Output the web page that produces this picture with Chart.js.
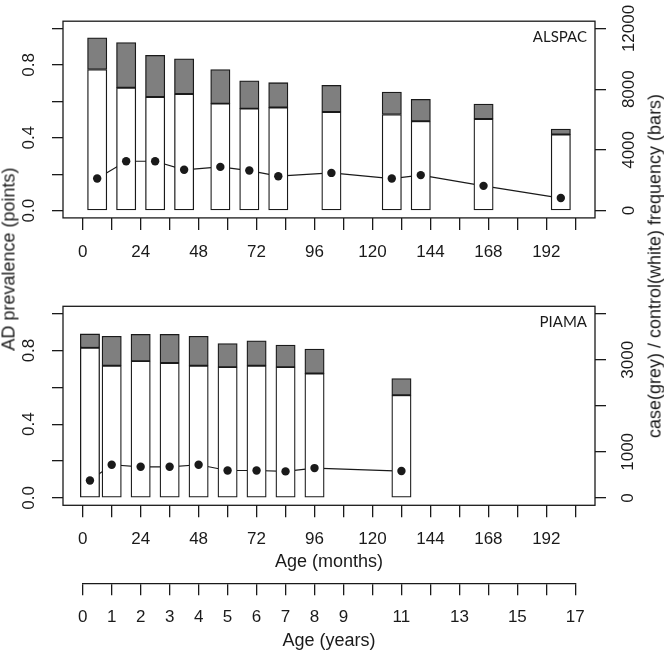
<!DOCTYPE html>
<html>
<head>
<meta charset="utf-8">
<script src="https://cdn.jsdelivr.net/npm/chart.js@4.4.0/dist/chart.umd.min.js"></script>
<style>
  body { margin: 0; background: #fff; }
  #wrap { position: relative; width: 664px; height: 652px; background: #fff; overflow: hidden; }
  canvas { position: absolute; left: 0; }
  .ytitle {
    position: absolute; white-space: nowrap; color: #1a1a1a;
    font-family: 'Liberation Sans', Arial, sans-serif; font-size: 18px;
    transform: translate(-50%, -50%) rotate(-90deg);
  }
</style>
</head>
<body>
<div id="wrap">
  <canvas id="alspac" width="664" height="262" style="top:0"></canvas>
  <canvas id="piama" width="664" height="293" style="top:280px"></canvas>
  <canvas id="years" width="664" height="76" style="top:576px"></canvas>
  <div class="ytitle" style="left:9px; top:259px">AD prevalence (points)</div>
  <div class="ytitle" style="left:655px; top:266px">case(grey) / control(white) frequency (bars)</div>
</div>
<script>
// ALSPAC, age in months
const alspacAge = [6, 18, 30, 42, 57, 69, 81, 103, 128, 140, 166, 198];
const alspacControl = [9300, 8100, 7480, 7680, 7050, 6720, 6790, 6500, 6330, 5890, 6040, 5020];
const alspacCase = [2080, 2970, 2750, 2320, 2250, 1830, 1640, 1750, 1480, 1440, 980, 350];
const alspacPrev = [0.176, 0.271, 0.271, 0.224, 0.24, 0.22, 0.189, 0.207, 0.176, 0.195, 0.136, 0.069];

// PIAMA
const piamaAge = [3, 12, 24, 36, 48, 60, 72, 84, 96, 132];
const piamaControl = [3260, 2870, 2970, 2930, 2870, 2840, 2870, 2840, 2700, 2230];
const piamaCase = [300, 640, 580, 620, 640, 510, 540, 480, 530, 360];
const piamaPrev = [0.095, 0.18, 0.169, 0.169, 0.18, 0.149, 0.149, 0.144, 0.162, 0.146];

// ticks and labels
const monthTicks = [0, 12, 24, 36, 48, 60, 72, 84, 96, 108, 120, 132, 144, 156, 168, 180, 192, 204];
const monthLabels = ['0', '', '24', '', '48', '', '72', '', '96', '', '120', '', '144', '', '168', '', '192', ''];
const yearLabels = ['0', '1', '2', '3', '4', '5', '6', '7', '8', '9', '', '11', '', '13', '', '15', '', '17'];
const prevTicks = [0, 0.2, 0.4, 0.6, 0.8, 1.0];
const prevLabels = ['0.0', '', '0.4', '', '0.8', ''];
const alspacCountTicks = [0, 4000, 8000, 12000];
const alspacCountLabels = ['0', '4000', '8000', '12000'];
const piamaCountTicks = [0, 1000, 2000, 3000, 4000];
const piamaCountLabels = ['0', '1000', '', '3000', ''];

const barMonths = 8;
const ink = '#1a1a1a';
const grey = '#7f7f7f';
const tickFont = { family: "'Liberation Sans', Arial, sans-serif", size: 17 };
const titleFont = { family: "'Liberation Sans', Arial, sans-serif", size: 18 };

// box round the plot area + cohort name
const framePlugin = {
  id: 'frame',
  afterDatasetsDraw(chart, args, opts) {
    if (!opts.box) return;
    const { ctx, chartArea: a } = chart;
    ctx.save();
    ctx.strokeStyle = ink;
    ctx.lineWidth = 1.3;
    ctx.strokeRect(a.left, a.top, a.right - a.left, a.bottom - a.top);
    if (opts.label) {
      ctx.fillStyle = ink;
      ctx.font = "15px Lato, 'Open Sans', sans-serif";
      ctx.textAlign = 'right';
      ctx.textBaseline = 'middle';
      ctx.fillText(opts.label, a.right - 8, a.top + 16);
    }
    ctx.restore();
  }
};

function fixedTicks(values) {
  return scale => { scale.ticks = values.map(v => ({ value: v })); };
}

function tickGrid(len) {
  return { drawOnChartArea: false, drawTicks: true, tickLength: len, color: ink, tickColor: ink, lineWidth: 1.3, offset: false };
}

function panel(id, p) {
  const pts = p.age.map((a, i) => ({ x: a, y: p.prev[i] }));
  const chart = new Chart(document.getElementById(id), {
    type: 'bar',
    data: {
      datasets: [
        { type: 'line', data: pts, yAxisID: 'yL', borderColor: ink, borderWidth: 1.2, pointRadius: 0, order: 3 },
        { label: 'control', data: p.age.map((a, i) => ({ x: a, y: p.control[i] })), yAxisID: 'yR',
          backgroundColor: '#ffffff', borderColor: ink, borderWidth: 1.3, borderSkipped: false, order: 2 },
        { label: 'case', data: p.age.map((a, i) => ({ x: a, y: p.cases[i] })), yAxisID: 'yR',
          backgroundColor: grey, borderColor: ink, borderWidth: 1.3, borderSkipped: false, order: 2 },
        { type: 'line', data: pts, yAxisID: 'yL', showLine: false, pointRadius: 4.2,
          pointBackgroundColor: ink, pointBorderWidth: 0, order: 1 }
      ]
    },
    options: {
      responsive: false,
      animation: false,
      layout: { autoPadding: false, padding: { top: p.padTop, left: 0, right: 0, bottom: 0 } },
      plugins: { legend: { display: false }, tooltip: { enabled: false }, frame: { box: true, label: p.name } },
      scales: {
        x: {
          type: 'linear', min: -8.16, max: 212.16, stacked: true, offset: false,
          afterBuildTicks: fixedTicks(monthTicks),
          afterFit: s => { s.height = p.xHeight; },
          grid: tickGrid(12),
          border: { display: false },
          ticks: { callback: (v, i) => monthLabels[i], font: tickFont, color: ink, padding: 12,
                   minRotation: 0, maxRotation: 0, autoSkip: false },
          title: { display: !!p.xTitle, text: p.xTitle, font: titleFont, color: ink, padding: 0 }
        },
        yL: {
          position: 'left', min: -0.04, max: 1.04,
          afterBuildTicks: fixedTicks(prevTicks),
          afterFit: s => { s.width = 63; },
          grid: tickGrid(11),
          border: { display: false },
          ticks: { callback: (v, i) => prevLabels[i], font: tickFont, color: ink, padding: 11,
                   minRotation: 90, maxRotation: 90, crossAlign: 'center', autoSkip: false }
        },
        yR: {
          position: 'right', stacked: true, min: -0.04 * p.countMax, max: 1.04 * p.countMax,
          afterBuildTicks: fixedTicks(p.countTicks),
          afterFit: s => { s.width = 69; },
          grid: tickGrid(11),
          border: { display: false },
          ticks: { callback: (v, i) => p.countLabels[i], font: tickFont, color: ink, padding: p.rPad,
                   minRotation: 90, maxRotation: 90, crossAlign: 'center', autoSkip: false }
        }
      }
    },
    plugins: [framePlugin]
  });

  // bars are 8 months wide on the month scale
  const xs = chart.scales.x;
  const w = xs.getPixelForValue(barMonths) - xs.getPixelForValue(0);
  chart.data.datasets.forEach(d => { if (!d.type) d.barThickness = w; });
  chart.update();
  return chart;
}

panel('alspac', {
  name: 'ALSPAC', age: alspacAge, control: alspacControl, cases: alspacCase, prev: alspacPrev,
  countMax: 12000, countTicks: alspacCountTicks, countLabels: alspacCountLabels,
  padTop: 18.9, xHeight: 44.1, rPad: 0
});

panel('piama', {
  name: 'PIAMA', age: piamaAge, control: piamaControl, cases: piamaCase, prev: piamaPrev,
  countMax: 4000, countTicks: piamaCountTicks, countLabels: piamaCountLabels,
  padTop: 26.3, xHeight: 67.7, rPad: 3, xTitle: 'Age (months)'
});

// second axis in years
new Chart(document.getElementById('years'), {
  type: 'scatter',
  data: { datasets: [] },
  options: {
    responsive: false,
    animation: false,
    layout: { autoPadding: false, padding: { top: 0, left: 82.7, right: 88.7, bottom: 0 } },
    plugins: { legend: { display: false }, tooltip: { enabled: false } },
    scales: {
      x: {
        type: 'linear', min: 0, max: 204, offset: false,
        afterBuildTicks: fixedTicks(monthTicks),
        afterFit: s => { s.height = 68.7; },
        grid: tickGrid(12),
        border: { display: true, color: ink, width: 1.3 },
        ticks: { callback: (v, i) => yearLabels[i], font: tickFont, color: ink, padding: 12,
                 minRotation: 0, maxRotation: 0, autoSkip: false },
        title: { display: true, text: 'Age (years)', font: titleFont, color: ink, padding: 0 }
      },
      y: { display: false, min: 0, max: 1 }
    }
  }
});
</script>
</body>
</html>
